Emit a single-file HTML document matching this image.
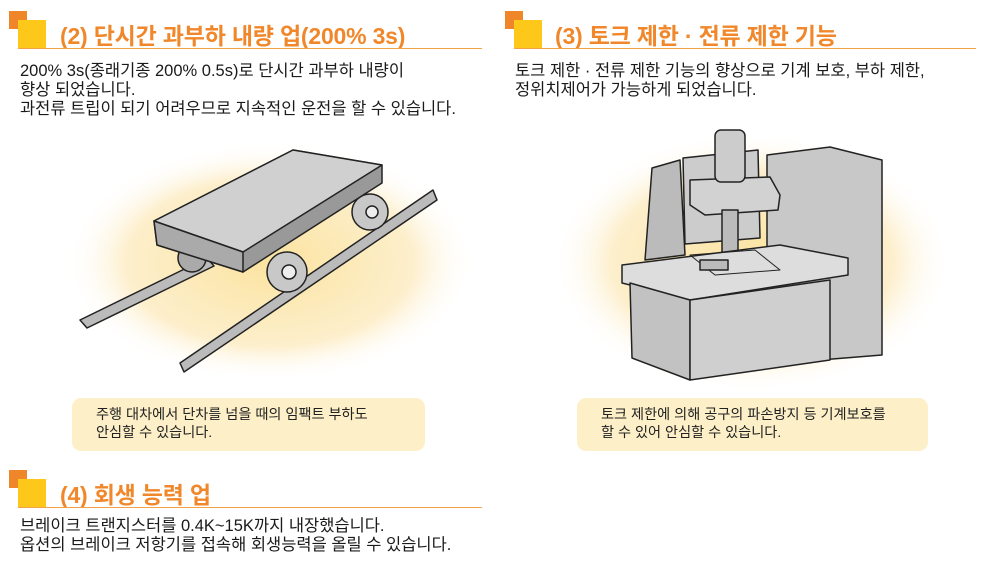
<!DOCTYPE html>
<html><head><meta charset="utf-8"><style>
body{margin:0;width:983px;height:564px;background:#fff;position:relative;overflow:hidden;font-family:"Liberation Sans","Noto Sans CJK KR",sans-serif;}
.a{position:absolute}
.os{width:18px;height:18px;background:#f0862a}
.ys{width:28px;height:28px;background:#fdc81a}
.t{font-size:23px;font-weight:bold;color:#f0872a;white-space:nowrap;letter-spacing:-0.2px}
.ln{height:1px;background:#f3a347}
.b{font-size:16.5px;line-height:19px;color:#1a1a1a;white-space:nowrap;letter-spacing:0}
.c{background:#fdf0c8;border-radius:9px;font-size:14.2px;line-height:18px;color:#222;padding:8px 0 0 24px;box-sizing:border-box;white-space:nowrap}
</style></head><body>
<svg class="a" style="left:0;top:0" width="983" height="564">
<defs><radialGradient id="g"><stop offset="0" stop-color="#fbe3a0"/><stop offset="0.7" stop-color="#fdefcc"/><stop offset="1" stop-color="#fff" stop-opacity="0"/></radialGradient></defs>
<ellipse cx="270" cy="262" rx="205" ry="120" fill="url(#g)"/>
<ellipse cx="752" cy="262" rx="200" ry="130" fill="url(#g)"/>
<g stroke="#222" stroke-width="1.5" stroke-linejoin="round">
<polygon points="80,320 207,258 214,266 87,328" fill="#bbb"/>
<polygon points="180,363 433,190 437,200 184,372" fill="#bbb"/>
<circle cx="192" cy="258" r="14" fill="#aaa"/>
<circle cx="370" cy="212" r="18" fill="#c8c8c8"/><circle cx="372" cy="212" r="6" fill="#eee"/>
<polygon points="154,221 293,150 382,165 382,183 243,272 157,245" fill="#999"/>
<polygon points="154,221 293,150 382,165 243,252" fill="#d0d0d0"/>
<polygon points="154,221 243,252 243,272 157,245" fill="#aaa"/>
<circle cx="287" cy="272" r="20" fill="#c8c8c8"/><circle cx="289" cy="272" r="7" fill="#eee"/>
</g>
<g stroke="#222" stroke-width="1.5" stroke-linejoin="round" fill="#d2d2d2">
<polygon points="767,155 830,147 882,160 882,355 820,360 767,350" fill="#c8c8c8"/>
<polygon points="652,168 680,160 685,255 645,260" fill="#bbb"/>
<polygon points="683,158 758,150 760,238 685,244" fill="#ccc"/>
<polygon points="690,180 770,177 780,195 778,210 705,215 690,205"/>
<rect x="715" y="130" width="30" height="52" rx="6" fill="#ccc"/>
<rect x="722" y="210" width="16" height="48" fill="#bbb"/>
<polygon points="622,265 780,245 848,258 848,275 690,300 622,283" fill="#ddd"/>
<polygon points="630,283 690,300 690,380 632,358" fill="#c2c2c2"/>
<polygon points="690,300 830,280 830,360 690,380" fill="#cfcfcf"/>
<polygon points="690,255 755,250 780,270 715,275" fill="none" stroke-width="1"/>
<rect x="700" y="260" width="28" height="10" fill="#bbb"/>
</g>
</svg>
<div class="a os" style="left:9px;top:11px"></div><div class="a ys" style="left:18px;top:20px"></div>
<div class="a t" style="left:60px;top:17px">(2) 단시간 과부하 내량 업(200% 3s)</div>
<div class="a ln" style="left:18px;top:48px;width:464px"></div>
<div class="a b" style="left:20px;top:62px">200% 3s(종래기종 200% 0.5s)로 단시간 과부하 내량이<br>향상 되었습니다.<br>과전류 트립이 되기 어려우므로 지속적인 운전을 할 수 있습니다.</div>
<div class="a os" style="left:505px;top:11px"></div><div class="a ys" style="left:514px;top:20px"></div>
<div class="a t" style="left:555px;top:17px">(3) 토크 제한 · 전류 제한 기능</div>
<div class="a ln" style="left:514px;top:48px;width:462px"></div>
<div class="a b" style="left:515px;top:62px">토크 제한 · 전류 제한 기능의 향상으로 기계 보호, 부하 제한,<br>정위치제어가 가능하게 되었습니다.</div>
<div class="a c" style="left:72px;top:398px;width:353px;height:53px">주행 대차에서 단차를 넘을 때의 임팩트 부하도<br>안심할 수 있습니다.</div>
<div class="a c" style="left:577px;top:398px;width:351px;height:53px">토크 제한에 의해 공구의 파손방지 등 기계보호를<br>할 수 있어 안심할 수 있습니다.</div>
<div class="a os" style="left:9px;top:470px"></div><div class="a ys" style="left:18px;top:479px"></div>
<div class="a t" style="left:60px;top:476px">(4) 회생 능력 업</div>
<div class="a ln" style="left:18px;top:507px;width:464px"></div>
<div class="a b" style="left:20px;top:517px">브레이크 트랜지스터를 0.4K~15K까지 내장했습니다.<br>옵션의 브레이크 저항기를 접속해 회생능력을 올릴 수 있습니다.</div>
</body></html>
